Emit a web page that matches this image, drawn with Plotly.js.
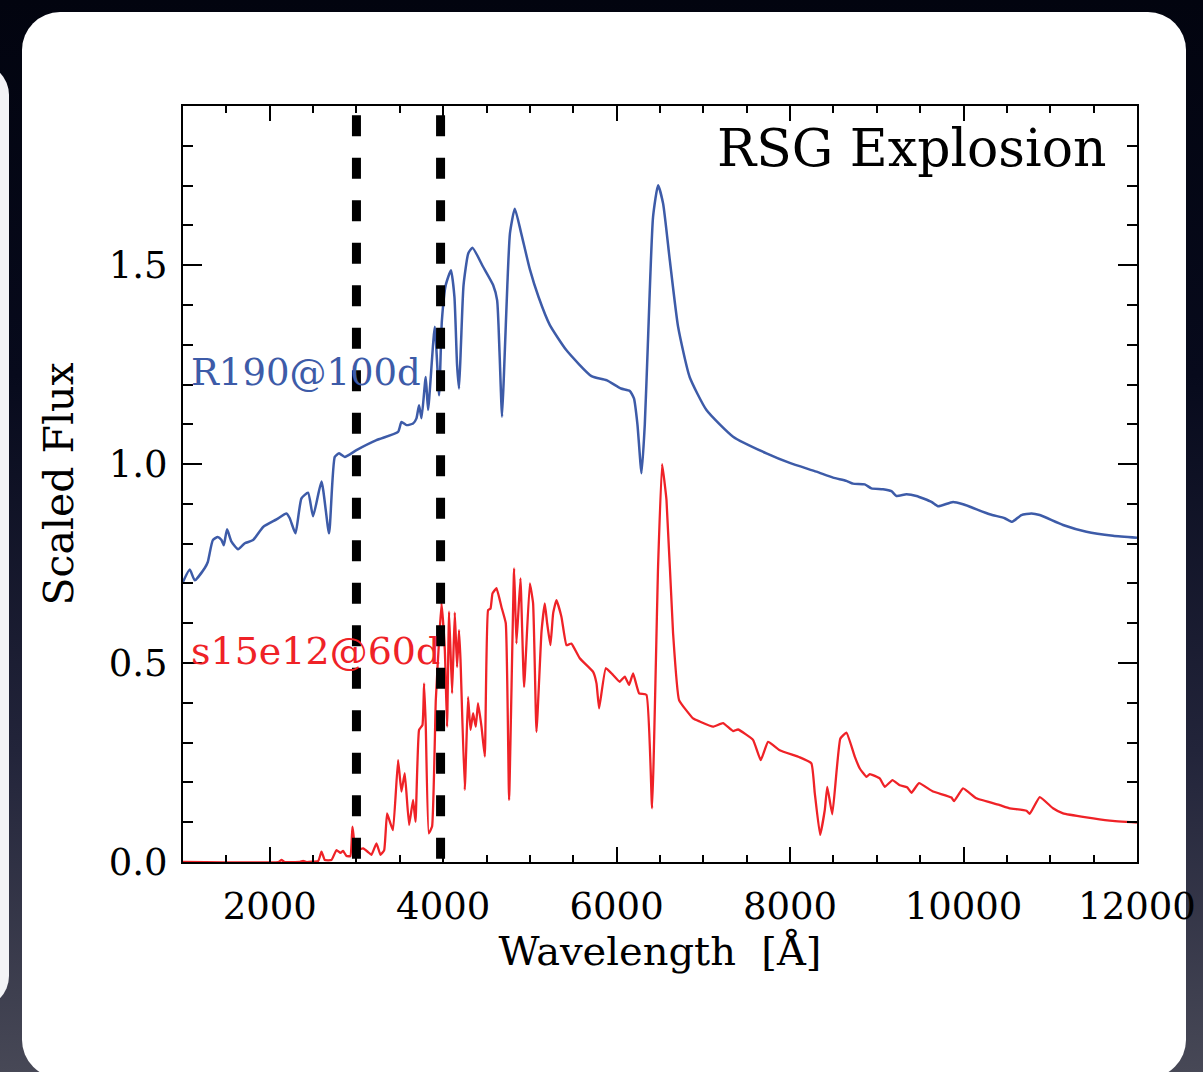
<!DOCTYPE html>
<html>
<head>
<meta charset="utf-8">
<script src="https://cdn.plot.ly/plotly-3.0.1.min.js"></script>
<style>
  html, body { margin:0; padding:0; width:1203px; height:1072px; overflow:hidden; }
  body { background: linear-gradient(to bottom, #02040f 0%, #070a1c 35%, #22243a 70%, #474856 100%); position:relative; }
  #leftcard { position:absolute; left:-300px; top:63px; width:309px; height:945px; background:#f3f3f6; border-radius:32px; }
  #card { position:absolute; left:22px; top:12px; width:1164px; height:1066px; background:#ffffff; border-radius:38px; }
  #plot { position:absolute; left:0; top:0; width:1203px; height:1072px; }
</style>
</head>
<body>
<div id="leftcard"></div>
<div id="card"></div>
<div id="plot"></div>
<script>
// ---- Data ----
const blueName = "R190@100d";
const blueWave = [1000,1078,1136,1251,1286,1344,1401,1444,1470,1508,1559,1635,1713,1808,1924,2078,2193,2231,2297,2366,2442,2500,2597,2684,2750,2800,2866,3000,3231,3480,3519,3577,3653,3692,3722,3750,3799,3826,3903,3953,3985,4030,4090,4130,4160,4183,4205,4235,4290,4338,4460,4576,4622,4650,4679,4705,4740,4770,4826,4900,4999,5100,5229,5422,5710,5883,6050,6152,6200,6240,6287,6325,6360,6420,6478,6536,6613,6709,6842,7036,7343,7728,7996,8304,8496,8650,8726,8861,8938,9072,9169,9227,9342,9457,9630,9706,9879,9995,10302,10475,10560,10668,10783,10879,11148,11417,11724,12000];
const blueFlux = [0.704,0.735,0.708,0.739,0.754,0.809,0.817,0.809,0.796,0.836,0.805,0.786,0.801,0.809,0.842,0.861,0.876,0.864,0.826,0.914,0.928,0.869,0.956,0.826,1.018,1.027,1.018,1.035,1.060,1.081,1.106,1.098,1.102,1.115,1.148,1.115,1.219,1.136,1.345,1.173,1.360,1.450,1.487,1.420,1.250,1.190,1.300,1.450,1.530,1.544,1.496,1.450,1.412,1.280,1.119,1.250,1.450,1.580,1.642,1.580,1.490,1.420,1.350,1.286,1.221,1.211,1.190,1.184,1.165,1.100,0.977,1.100,1.300,1.621,1.701,1.655,1.513,1.345,1.219,1.136,1.069,1.027,1.003,0.981,0.966,0.958,0.951,0.949,0.939,0.937,0.932,0.920,0.924,0.920,0.905,0.894,0.905,0.899,0.874,0.864,0.855,0.872,0.876,0.872,0.847,0.830,0.820,0.815];

const redName = "s15e12@60d";
const redWave = [1000,2100,2136,2170,2350,2385,2420,2560,2597,2635,2712,2770,2816,2846,2885,2930,2954,2992,3077,3134,3173,3231,3277,3320,3353,3392,3422,3480,3519,3557,3607,3653,3681,3722,3761,3780,3799,3834,3872,3915,3953,3981,4019,4045,4068,4103,4134,4160,4183,4200,4249,4287,4315,4345,4376,4402,4442,4480,4518,4546,4569,4615,4672,4722,4760,4818,4845,4891,4933,4999,5037,5076,5134,5172,5199,5237,5268,5306,5364,5422,5479,5575,5729,5768,5798,5875,5959,6036,6094,6144,6190,6259,6344,6409,6478,6524,6575,6651,6720,6881,6959,7112,7227,7343,7400,7573,7662,7746,7881,8111,8246,8285,8346,8400,8429,8487,8579,8650,8746,8804,8881,8919,9034,9092,9181,9265,9349,9400,9487,9649,9861,9891,9995,10149,10418,10533,10726,10764,10879,11032,11148,11417,11686,12000];
const redFlux = [0.000,0.000,0.005,0.000,0.000,0.003,0.000,0.003,0.026,0.005,0.005,0.030,0.023,0.028,0.015,0.015,0.089,0.030,0.034,0.025,0.018,0.047,0.018,0.030,0.122,0.097,0.080,0.256,0.177,0.223,0.093,0.156,0.101,0.332,0.344,0.449,0.345,0.072,0.089,0.407,0.558,0.650,0.533,0.340,0.629,0.424,0.627,0.490,0.583,0.508,0.181,0.415,0.332,0.374,0.340,0.399,0.340,0.265,0.633,0.637,0.675,0.688,0.641,0.600,0.156,0.738,0.549,0.713,0.440,0.700,0.650,0.327,0.579,0.650,0.600,0.545,0.625,0.658,0.616,0.545,0.549,0.512,0.478,0.449,0.386,0.487,0.470,0.453,0.466,0.445,0.474,0.424,0.420,0.135,0.742,1.000,0.910,0.575,0.407,0.361,0.353,0.340,0.349,0.329,0.333,0.307,0.256,0.302,0.281,0.263,0.248,0.173,0.068,0.130,0.189,0.120,0.310,0.325,0.265,0.235,0.214,0.221,0.210,0.189,0.206,0.193,0.188,0.174,0.198,0.177,0.162,0.153,0.185,0.160,0.143,0.135,0.129,0.121,0.163,0.135,0.122,0.112,0.104,0.099];

const markerLines = [3000, 3970];
const titleText = "RSG Explosion";
const xTitle = "Wavelength  [Å]";
const yTitle = "Scaled Flux";
const xTickVals = [2000,4000,6000,8000,10000,12000];
const yTickVals = [0.0,0.5,1.0,1.5];
const yTickText = ["0.0","0.5","1.0","1.5"];

const blueColor = "#3d5ba8";
const redColor = "#ef2227";
const FONT = "DejaVu Serif";

const traces = [
  {x: blueWave, y: blueFlux, type:"scatter", mode:"lines", name: blueName,
   line:{color: blueColor, width:2.5, shape:"spline", smoothing:0.5}, hoverinfo:"skip"},
  {x: redWave, y: redFlux, type:"scatter", mode:"lines", name: redName,
   line:{color: redColor, width:2.3, shape:"spline", smoothing:0.35}, hoverinfo:"skip"}
];

const shapes = markerLines.map(v => ({
  type:"line", xref:"x", yref:"y", x0:v, x1:v, y0:1.877, y1:0,
  line:{color:"#000000", width:9, dash:"21px,21.5px"}, layer:"above"
}));

const layout = {
  width:1203, height:1072,
  paper_bgcolor:"rgba(0,0,0,0)", plot_bgcolor:"rgba(0,0,0,0)",
  margin:{l:183, r:66, t:106, b:210},
  showlegend:false,
  font:{family:FONT, color:"#000"},
  xaxis:{
    range:[1000,12000.5], showgrid:false, zeroline:false,
    showline:true, linecolor:"#000", linewidth:2, mirror:"allticks",
    ticks:"inside", ticklen:15, tickwidth:2, tickcolor:"#000",
    tickmode:"array", tickvals:xTickVals, ticktext:xTickVals.map(String),
    tickfont:{family:FONT, size:37, color:"#000"}, ticklabelstandoff:11,
    minor:{ticks:"inside", dtick:500, tick0:0, ticklen:7, tickwidth:2, tickcolor:"#000", showgrid:false},
    title:{text:xTitle, font:{family:FONT, size:40, color:"#000"}, standoff:4}
  },
  yaxis:{
    range:[0,1.9], showgrid:false, zeroline:false,
    showline:true, linecolor:"#000", linewidth:2, mirror:"allticks",
    ticks:"inside", ticklen:19, tickwidth:2, tickcolor:"#000",
    tickmode:"array", tickvals:yTickVals, ticktext:yTickText,
    tickfont:{family:FONT, size:37, color:"#000"}, ticklabelstandoff:6,
    minor:{ticks:"inside", dtick:0.1, tick0:0, ticklen:10, tickwidth:2, tickcolor:"#000", showgrid:false},
    title:{text:yTitle, font:{family:FONT, size:41, color:"#000"}, standoff:22}
  },
  shapes: shapes,
  annotations:[
    {text:titleText, xref:"paper", yref:"paper", x:0.9696, y:0.944, xanchor:"right", yanchor:"middle",
     showarrow:false, font:{family:FONT, size:52, color:"#000"}},
    {text:blueName, xref:"paper", yref:"paper", x:0.006, y:0.648, xanchor:"left", yanchor:"middle",
     showarrow:false, font:{family:FONT, size:37, color:blueColor}},
    {text:redName, xref:"paper", yref:"paper", x:0.006, y:0.279, xanchor:"left", yanchor:"middle",
     showarrow:false, font:{family:FONT, size:38, color:redColor}}
  ]
};

Plotly.newPlot("plot", traces, layout, {displayModeBar:false, staticPlot:true});
</script>
</body>
</html>
